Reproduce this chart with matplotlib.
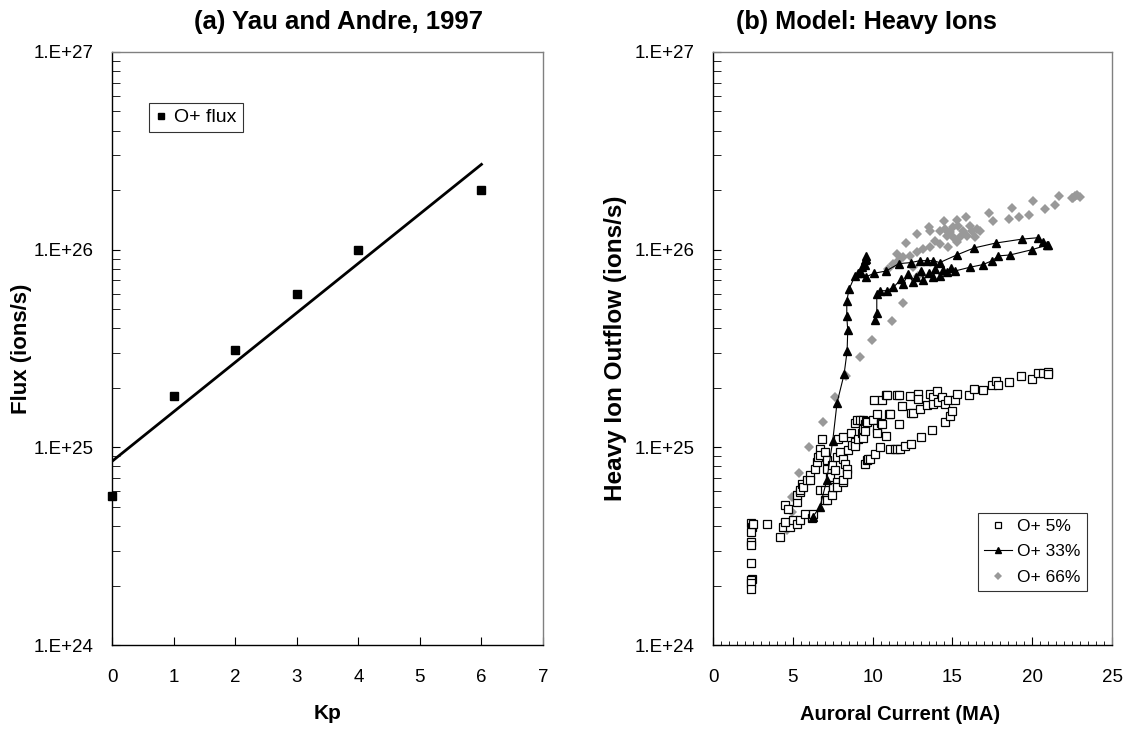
import numpy as np
import matplotlib
matplotlib.use("Agg")
import matplotlib.pyplot as plt
from matplotlib.ticker import LogLocator, MultipleLocator, FuncFormatter, NullFormatter

plt.rcParams["font.family"] = ["Liberation Sans", "DejaVu Sans"]

# (a) Yau and Andre 1997: O+ flux vs Kp
kp = [0, 1, 2, 3, 4, 6]
flux = [5.7e24, 1.82e25, 3.1e25, 6.0e25, 1.0e26, 2.0e26]
fit_kp = [0, 6]
fit_flux = [8.5e24, 2.7e26]

# (b) model: heavy ion outflow vs auroral current
o5_x = [2.38, 2.42, 2.36, 2.40, 2.38, 2.36, 2.44, 2.40, 2.38, 2.36,
        2.53, 3.36, 4.20, 4.40, 4.51, 4.72, 4.83, 4.51, 5.03, 5.24, 5.24, 5.24,
        5.45, 5.45, 5.45, 5.56, 5.66, 5.76, 5.87, 6.08, 6.08, 6.18, 6.28, 6.39,
        6.50, 6.60, 6.70, 6.70, 6.70, 6.81, 7.02, 7.02, 7.02, 7.12, 7.12, 7.12,
        7.33, 7.44, 7.44, 7.54, 7.64, 7.75, 7.75, 7.75, 7.85, 7.96, 8.16, 8.17,
        8.17, 8.17, 8.27, 8.38, 8.38, 8.48, 8.63, 8.69, 8.90, 8.90, 8.90, 9.00,
        9.11, 9.21, 9.32, 9.38, 9.42, 9.42, 9.52, 9.52, 9.52, 9.59, 9.63, 9.63,
        9.73, 9.84, 10.05, 10.11, 10.15, 10.26, 10.26, 10.26, 10.46, 10.53,
        10.57, 10.57, 10.84, 10.84, 10.88, 11.05, 11.09, 11.09, 11.41, 11.51,
        11.51, 11.65, 11.65, 11.72, 11.84, 12.03, 12.34, 12.41, 12.41, 12.55,
        12.87, 12.87, 12.97, 13.01, 13.39, 13.60, 13.74, 13.80, 13.80, 14.06,
        14.12, 14.33, 14.53, 14.53, 14.74, 14.85, 14.95, 15.16, 15.27, 16.06,
        16.35, 16.90, 17.50, 17.71, 17.83, 18.57, 19.30, 19.97, 20.39, 20.70,
        20.97, 20.97]
o5_y = [4.12e24, 3.95e24, 3.73e24, 3.33e24, 3.2e24, 2.59e24, 2.17e24, 2.13e24, 2.05e24, 1.93e24,
        4.11e24, 4.08e24, 3.52e24, 3.95e24, 5.09e24, 4.9e24, 3.95e24, 4.2e24, 4.28e24, 5.3e24, 4.11e24, 5.73e24,
        5.94e24, 6.07e24, 4.28e24, 6.56e24, 6.31e24, 4.62e24, 6.81e24, 7.23e24, 6.81e24, 4.37e24, 4.62e24, 7.8e24,
        8.43e24, 8.93e24, 9.84e24, 9.12e24, 6.07e24, 1.107e25, 9.48e24, 6.07e24, 5.4e24, 8.59e24, 7.8e24, 5.4e24,
        7.08e24, 8.11e24, 5.73e24, 6.31e24, 7.66e24, 8.93e24, 6.68e24, 6.31e24, 1.096e25, 9.48e24, 6.68e24, 6.81e24,
        8.77e24, 1.127e25, 8.26e24, 7.8e24, 7.36e24, 9.66e24, 1.183e25, 1.023e25, 1.064e25, 1.019e25, 1.327e25, 1.38e25,
        1.107e25, 1.371e25, 1.175e25, 1.38e25, 1.242e25, 1.117e25, 1.318e25, 1.205e25, 8.28e24, 1.361e25, 1.343e25, 8.59e24,
        8.77e24, 8.77e24, 1.371e25, 1.726e25, 9.29e24, 1.479e25, 1.253e25, 1.183e25, 1.005e25, 1.327e25,
        1.726e25, 1.318e25, 1.832e25, 1.135e25, 1.832e25, 1.466e25, 1.479e25, 9.84e24, 9.84e24, 1.832e25,
        9.84e24, 1.832e25, 1.306e25, 9.84e24, 1.611e25, 1.016e25, 1.811e25, 1.493e25, 1.045e25, 1.493e25,
        1.854e25, 1.766e25, 1.567e25, 1.127e25, 1.629e25, 1.866e25, 1.23e25, 1.795e25, 1.66e25, 1.923e25,
        1.694e25, 1.795e25, 1.66e25, 1.343e25, 1.726e25, 1.435e25, 1.524e25, 1.726e25, 1.854e25, 1.832e25,
        1.977e25, 1.941e25, 2.056e25, 2.178e25, 2.07e25, 2.153e25, 2.286e25, 2.223e25, 2.377e25, 2.388e25,
        2.404e25, 2.339e25]

o33_x = [6.25, 6.70, 7.12, 7.50, 7.77, 8.21, 8.40, 8.44, 8.38, 8.38, 8.52, 8.90,
         9.10, 9.35, 9.50, 9.57, 9.60, 9.50, 9.30, 9.60,
         10.11, 10.84, 11.65, 12.39, 12.97, 13.40, 13.80, 14.20, 15.27, 16.35,
         17.71, 19.34, 20.39, 20.70, 20.90, 21.00,
         19.99, 18.61, 17.88, 17.50, 16.90, 16.10, 15.16, 14.90, 14.64, 14.40,
         14.22, 13.90, 13.80, 13.50, 13.18, 13.00, 12.70, 12.55, 12.20, 11.92,
         11.80, 11.30, 10.88, 10.46, 10.26, 10.26, 10.15]
o33_y = [4.45e24, 5.0e24, 6.8e24, 1.08e25, 1.68e25, 2.34e25, 3.06e25, 3.9e25, 4.6e25, 5.5e25, 6.3e25, 7.4e25,
         7.6e25, 8.2e25, 8.9e25, 9.3e25, 9.0e25, 8.4e25, 7.6e25, 7.3e25,
         7.6e25, 7.8e25, 8.5e25, 8.6e25, 8.8e25, 8.8e25, 8.8e25, 8.6e25, 9.4e25, 1.02e26,
         1.08e26, 1.13e26, 1.15e26, 1.09e26, 1.05e26, 1.06e26,
         1.0e26, 9.4e25, 9.3e25, 8.8e25, 8.4e25, 8.15e25, 7.8e25, 8.1e25, 7.7e25, 7.9e25,
         7.4e25, 8.0e25, 7.25e25, 7.6e25, 7.0e25, 7.8e25, 7.3e25, 6.85e25, 7.5e25, 6.7e25,
         7.1e25, 6.45e25, 6.2e25, 6.2e25, 5.95e25, 4.8e25, 4.4e25]

o66_x = [4.66, 4.93, 4.95, 5.40, 6.04, 6.86, 7.63, 8.31, 9.19, 9.98, 11.20, 11.92,
         12.87, 12.55, 10.98, 11.30, 11.55, 11.61, 11.92, 12.09, 12.34, 12.76,
         12.76, 13.18, 13.55, 13.60, 13.60, 13.91, 14.22, 14.22, 14.50, 14.53,
         14.64, 14.74, 14.85, 15.06, 15.06, 15.27, 15.27, 15.37, 15.47, 15.68,
         15.85, 15.89, 16.10, 16.21, 16.42, 16.52, 16.73, 17.31, 17.56, 18.57,
         18.71, 19.19, 19.82, 20.07, 20.82, 21.41, 21.68, 22.47, 22.58, 22.68,
         22.83, 22.99]
o66_y = [3.8e24, 4.7e24, 5.6e24, 7.4e24, 1.0e25, 1.34e25, 1.79e25, 2.29e25, 2.88e25, 3.51e25, 4.35e25, 5.37e25,
         7.4e25, 8.15e25, 7.98e25, 8.47e25, 9.5e25, 8.81e25, 9.16e25, 1.076e26, 9.33e25, 9.7e25,
         1.2e26, 1.007e26, 1.306e26, 1.028e26, 1.247e26, 1.109e26, 1.069e26, 1.247e26, 1.39e26, 1.271e26,
         1.178e26, 1.028e26, 1.222e26, 1.297e26, 1.153e26, 1.406e26, 1.089e26, 1.321e26, 1.153e26, 1.247e26,
         1.455e26, 1.178e26, 1.321e26, 1.247e26, 1.153e26, 1.271e26, 1.247e26, 1.538e26, 1.39e26, 1.429e26,
         1.622e26, 1.455e26, 1.503e26, 1.766e26, 1.603e26, 1.687e26, 1.858e26, 1.832e26, 1.82e26, 1.871e26,
         1.892e26, 1.849e26]

GRAY = "#808080"
sci = FuncFormatter(lambda v, p: f"1.E+{int(round(np.log10(v)))}")


def style(ax):
    ax.set_yscale("log")
    ax.set_ylim(1e24, 1e27)
    ax.yaxis.set_major_locator(LogLocator(base=10, numticks=10))
    ax.yaxis.set_minor_locator(LogLocator(base=10, subs=np.arange(2, 10), numticks=10))
    ax.yaxis.set_major_formatter(sci)
    ax.yaxis.set_minor_formatter(NullFormatter())
    for s in ("left", "bottom"):
        ax.spines[s].set_color("black")
        ax.spines[s].set_linewidth(1.0)
    for s in ("top", "right"):
        ax.spines[s].set_color(GRAY)
        ax.spines[s].set_linewidth(1.0)
    ax.tick_params(which="both", direction="in", color="black", labelsize=13.5,
                   top=False, right=False)
    ax.tick_params(axis="y", which="major", length=6, pad=13)
    ax.tick_params(axis="y", which="minor", length=6)
    ax.tick_params(axis="x", which="major", length=6, pad=17)
    ax.tick_params(axis="x", which="minor", length=3)


fig = plt.figure(figsize=(11.25, 7.29), dpi=100)
ax1 = fig.add_axes([0.0996, 0.1152, 0.3831, 0.8135])
ax2 = fig.add_axes([0.6338, 0.1152, 0.3547, 0.8135])

style(ax1)
ax1.plot(fit_kp, fit_flux, "-", color="black", lw=2.0)
ax1.plot(kp, flux, "s", color="black", ms=6, ls="none", label="O+ flux", clip_on=False)
ax1.set_xlim(0, 7)
ax1.xaxis.set_major_locator(MultipleLocator(1))
ax1.set_xlabel("Kp", fontsize=15, fontweight="bold", va="center")
ax1.xaxis.set_label_coords(0.5, -0.116)
ax1.set_ylabel("Flux (ions/s)", fontsize=16, fontweight="bold", va="center")
ax1.yaxis.set_label_coords(-0.209, 0.5)
leg1 = ax1.legend(loc="upper left", bbox_to_anchor=(0.086, 0.914), borderaxespad=0,
                  fontsize=14, frameon=True, fancybox=False, handlelength=0.6,
                  handletextpad=0.4, markerscale=0.8, borderpad=0.3)
leg1.get_frame().set_edgecolor("black")
leg1.get_frame().set_linewidth(0.8)

style(ax2)
ax2.plot(o66_x, o66_y, "D", color="#999999", ms=5.5, mew=0, ls="none", label="O+ 66%")
ax2.plot(o5_x, o5_y, "s", mfc="white", mec="black", ms=5.5, mew=0.9, ls="none", label="O+ 5%")
ax2.plot(o33_x, o33_y, "-^", color="black", lw=0.8, ms=5.5, label="O+ 33%")
ax2.set_xlim(0, 25)
ax2.xaxis.set_major_locator(MultipleLocator(5))
ax2.xaxis.set_minor_locator(MultipleLocator(0.5))
ax2.set_xlabel("Auroral Current (MA)", fontsize=14.5, fontweight="bold", va="center")
ax2.xaxis.set_label_coords(0.469, -0.118)
ax2.set_ylabel("Heavy Ion Outflow (ions/s)", fontsize=17.5, fontweight="bold", va="center")
ax2.yaxis.set_label_coords(-0.2456, 0.5)
h, l = ax2.get_legend_handles_labels()
order = [1, 2, 0]
leg2 = ax2.legend([h[i] for i in order], [l[i] for i in order], loc="lower right",
                  bbox_to_anchor=(0.937, 0.091), borderaxespad=0, fontsize=12.5,
                  frameon=True, fancybox=False, handlelength=1.6, handletextpad=0.3,
                  markerscale=0.7, borderpad=0.35, labelspacing=0.6)
leg2.get_frame().set_edgecolor("black")
leg2.get_frame().set_linewidth(0.8)

fig.text(338 / 1125, 1 - 22 / 729, "(a) Yau and Andre, 1997", ha="center", va="center",
         fontsize=18.5, fontweight="bold")
fig.text(866 / 1125, 1 - 22 / 729, "(b) Model: Heavy Ions", ha="center", va="center",
         fontsize=18.2, fontweight="bold")

fig.savefig("out.png", dpi=100)
